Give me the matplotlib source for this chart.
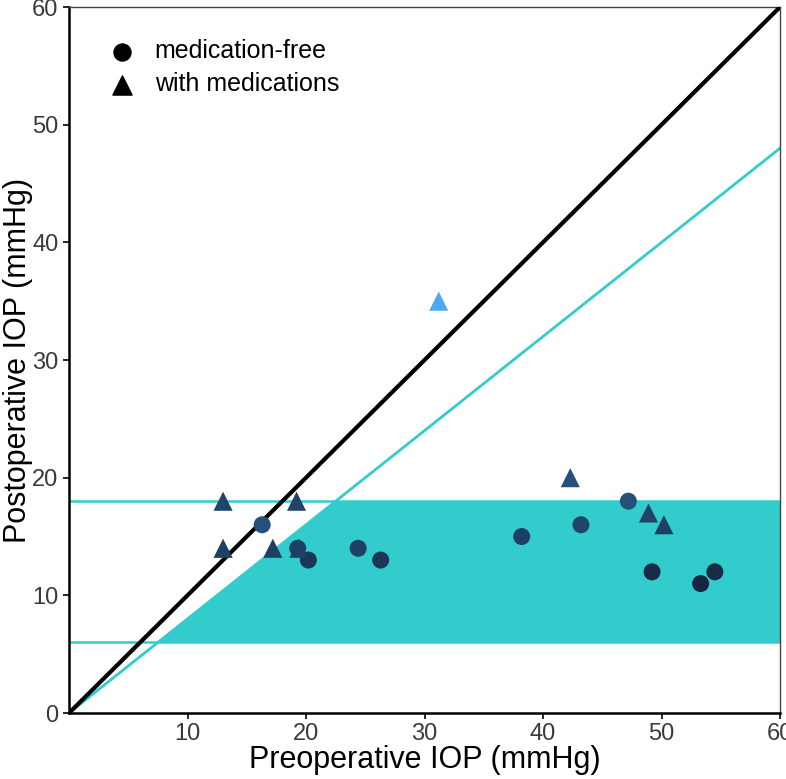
import matplotlib
matplotlib.use("Agg")
import matplotlib.pyplot as plt
import numpy as np

plt.rcParams['font.family'] = ['Liberation Sans', 'DejaVu Sans']

# Data
free_pre = [16.3, 19.3, 20.2, 24.4, 26.3, 38.2, 43.2, 47.2, 49.2, 53.3, 54.5]
free_post = [16, 14, 13, 14, 13, 15, 16, 18, 12, 11, 12]
free_colors = ['#25507a', '#1f3f63', '#1c3656', '#1f3f63', '#1c3656', '#1f3f63',
               '#214568', '#25507a', '#172b47', '#152640', '#172b47']
med_pre = [13.0, 13.0, 17.2, 19.2, 19.4, 31.2, 42.3, 48.9, 50.2]
med_post = [18, 14, 14, 18, 14, 35, 20, 17, 16]
med_colors = ['#214568', '#1f3f63', '#1f3f63', '#214568', '#1f3f63', '#4ba8f2',
              '#25507a', '#214568', '#1f3f63']
xticks = [10, 20, 30, 40, 50, 60]
yticks = [0, 10, 20, 30, 40, 50, 60]
success_upper = 18
success_lower = 6
reduction_ratio = 0.8

fig = plt.figure(figsize=(7.86, 7.79), dpi=100)
ax = fig.add_axes([0.0878, 0.0847, 0.9046, 0.9063])
teal = '#33CCCC'

# shaded success region
xs = np.array([success_lower / reduction_ratio, success_upper / reduction_ratio, 60, 60])
ys = np.array([success_lower, success_upper, success_upper, success_lower])
ax.fill(xs, ys, color=teal, lw=0, zorder=1)
ax.axhline(success_upper, color=teal, lw=1.8, zorder=2)
ax.axhline(success_lower, color=teal, lw=1.8, zorder=2)
ax.plot([0, 60], [0, 60 * reduction_ratio], color=teal, lw=2, zorder=2)
ax.plot([0, 60], [0, 60], color='black', lw=3, zorder=3)

ax.scatter(free_pre, free_post, marker='o', s=150, c=free_colors, zorder=4, linewidths=0)
ax.scatter(med_pre, med_post, marker='^', s=190, c=med_colors, zorder=4, linewidths=0)

# legend
ax.scatter([], [], marker='o', s=150, c='black', label='medication-free')
ax.scatter([], [], marker='^', s=190, c='black', label='with medications')
ax.legend(loc='upper left', bbox_to_anchor=(0.008, 0.986), frameon=False,
          fontsize=18, handletextpad=0.3, labelspacing=0.35)

ax.set_xlim(0, 60)
ax.set_ylim(0, 60)
ax.set_xticks(xticks)
ax.set_yticks(yticks)
ax.tick_params(axis='both', labelsize=17, labelcolor='#3a3a3a', direction='out', length=4, width=1.2)
ax.set_xlabel('Preoperative IOP (mmHg)', fontsize=22)
ax.set_ylabel('Postoperative IOP (mmHg)', fontsize=22)
ax.xaxis.set_label_coords(0.5, -0.046)
ax.yaxis.set_label_coords(-0.050, 0.5)
for s in ['left', 'bottom']:
    ax.spines[s].set_linewidth(1.8)
    ax.spines[s].set_color('black')
for s in ['top', 'right']:
    ax.spines[s].set_linewidth(1.0)
    ax.spines[s].set_color('#444444')

fig.savefig('out.png', dpi=100)
